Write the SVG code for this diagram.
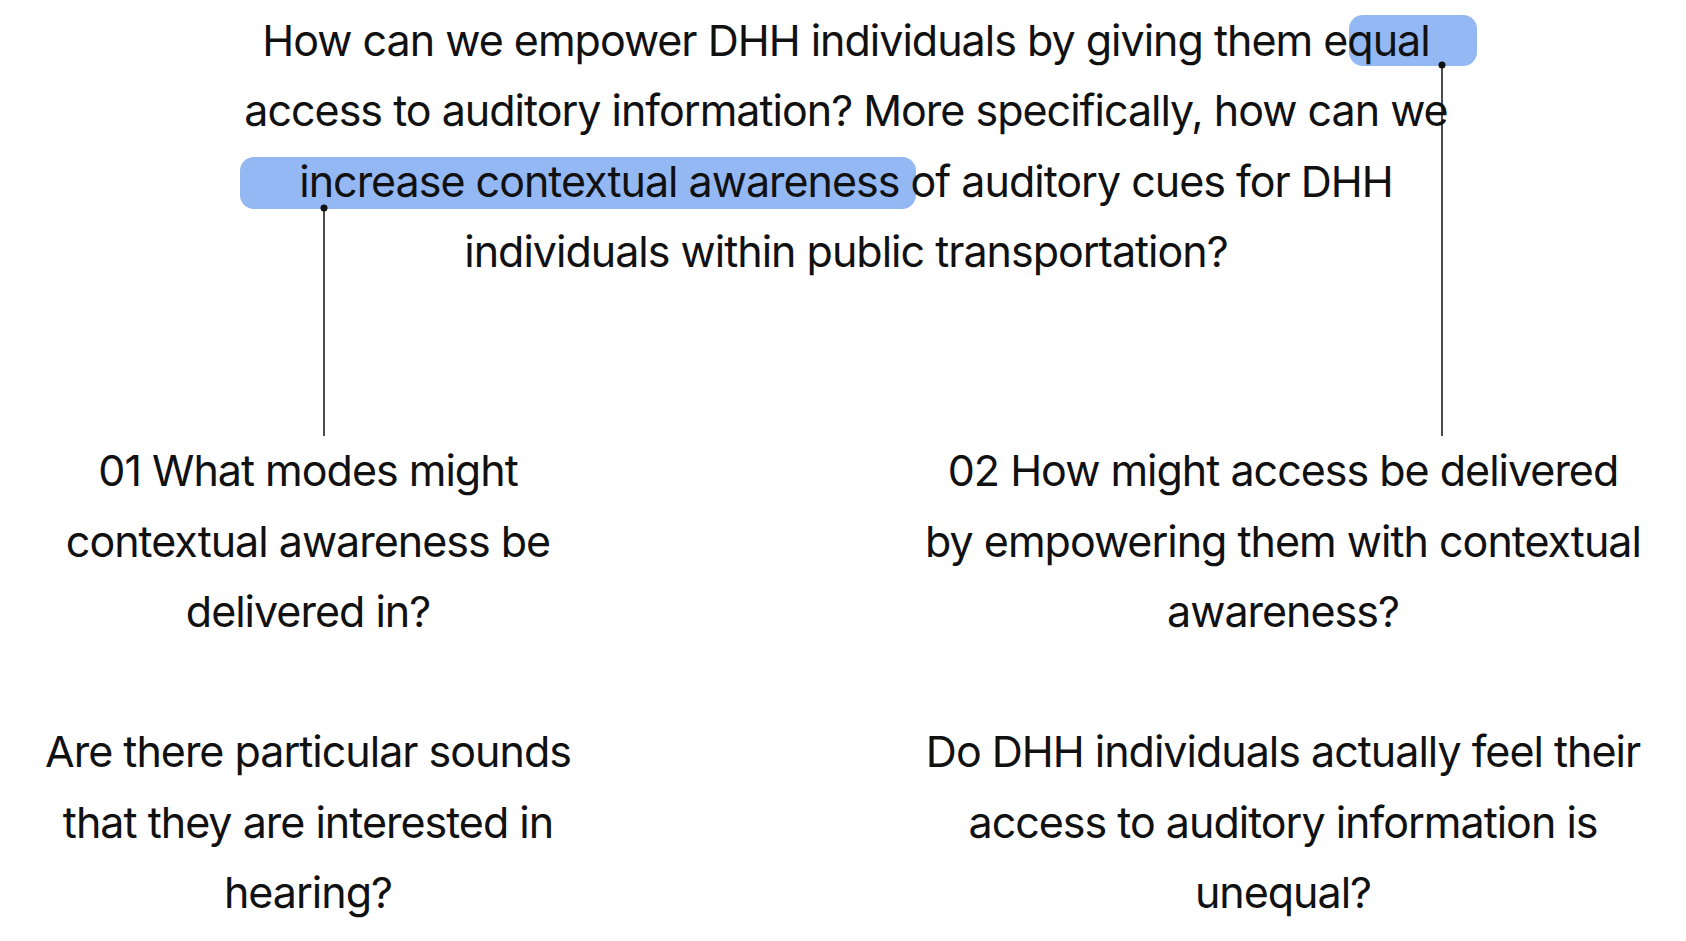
<svg xmlns="http://www.w3.org/2000/svg" width="1686" height="941" viewBox="0 0 1686 941">
<style>
text{font-family:Inter,"Liberation Sans",sans-serif;font-size:43px;fill:#111;text-anchor:middle;letter-spacing:-1px}
.hl{fill:#93b8f3}
.ln{stroke:#111;stroke-width:1.5;fill:none}
</style>
<rect width="1686" height="941" fill="#fff"/>
<g id="question">
<rect class="hl" x="1349" y="15" width="128" height="51" rx="14"/>
<rect class="hl" x="240" y="157" width="676" height="52" rx="14"/>
<text x="846" y="56">How can we empower DHH individuals by giving them equal</text>
<text x="846" y="126">access to auditory information? More specifically, how can we</text>
<text x="846" y="197">increase contextual awareness of auditory cues for DHH</text>
<text x="846" y="267">individuals within public transportation?</text>
</g>
<g id="connectors">
<line class="ln" x1="324" y1="208" x2="324" y2="436"/>
<circle cx="324" cy="208" r="3.5" fill="#111"/>
<line class="ln" x1="1442" y1="65" x2="1442" y2="436"/>
<circle cx="1442" cy="65" r="3.5" fill="#111"/>
</g>
<g id="q1">
<text x="308" y="486">01 What modes might</text>
<text x="308" y="557">contextual awareness be</text>
<text x="308" y="627">delivered in?</text>
</g>
<g id="q1b">
<text x="308" y="767">Are there particular sounds</text>
<text x="308" y="838">that they are interested in</text>
<text x="308" y="908">hearing?</text>
</g>
<g id="q2">
<text x="1283" y="486">02 How might access be delivered</text>
<text x="1283" y="557">by empowering them with contextual</text>
<text x="1283" y="627">awareness?</text>
</g>
<g id="q2b">
<text x="1283" y="767">Do DHH individuals actually feel their</text>
<text x="1283" y="838">access to auditory information is</text>
<text x="1283" y="908">unequal?</text>
</g>
</svg>
